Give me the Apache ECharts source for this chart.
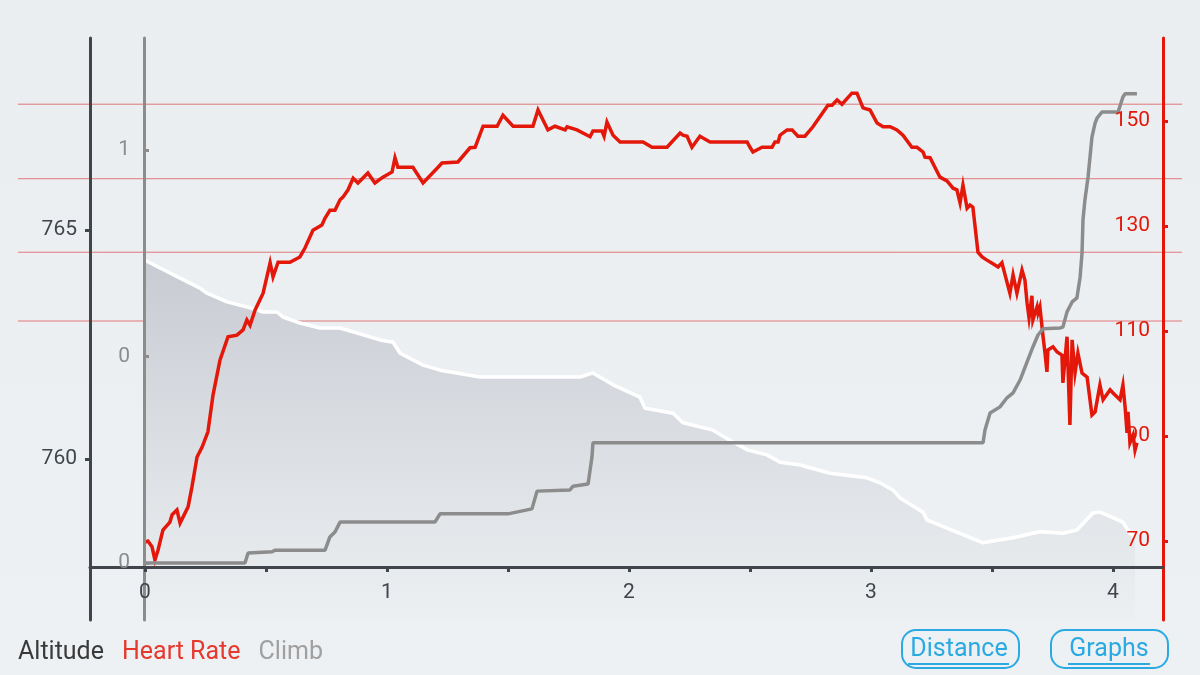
<!DOCTYPE html>
<html>
<head>
<meta charset="utf-8">
<script src="https://cdn.jsdelivr.net/npm/echarts@6/dist/echarts.min.js"></script>
<style>
html,body{margin:0;padding:0;background:#ebeff2;}
#chart{width:1200px;height:675px;}
</style>
</head>
<body>
<div id="chart"></div>
<script>
// ---------- data ----------
const altDist = [0,0.062,0.145,0.227,0.256,0.339,0.421,0.488,0.545,0.570,0.640,0.723,0.806,0.971,1.025,1.054,1.149,1.219,1.384,1.603,1.798,1.851,1.934,2.045,2.066,2.182,2.223,2.347,2.417,2.488,2.570,2.624,2.707,2.831,2.983,3.037,3.091,3.120,3.215,3.231,3.314,3.463,3.504,3.587,3.698,3.793,3.851,3.917,3.946,4.041,4.070,4.091];
const altVal  = [764.34,764.17,763.95,763.73,763.62,763.43,763.32,763.21,763.21,763.10,762.97,762.86,762.86,762.60,762.55,762.31,762.05,761.94,761.79,761.79,761.79,761.88,761.62,761.35,761.11,761.00,760.79,760.63,760.41,760.20,760.09,759.93,759.87,759.69,759.59,759.48,759.32,759.15,758.84,758.67,758.49,758.17,758.21,758.28,758.41,758.38,758.45,758.82,758.84,758.62,758.38,758.30];

const hrDist = [0,0.012,0.029,0.041,0.054,0.074,0.103,0.112,0.132,0.145,0.178,0.194,0.215,0.236,0.260,0.281,0.310,0.343,0.380,0.405,0.421,0.434,0.455,0.488,0.517,0.529,0.550,0.599,0.640,0.661,0.694,0.731,0.744,0.764,0.785,0.806,0.818,0.839,0.860,0.880,0.921,0.950,0.983,1.021,1.033,1.045,1.107,1.149,1.211,1.227,1.293,1.343,1.364,1.397,1.455,1.479,1.521,1.603,1.624,1.665,1.694,1.736,1.744,1.785,1.839,1.851,1.888,1.897,1.909,1.934,1.963,2.058,2.095,2.157,2.211,2.223,2.240,2.260,2.293,2.335,2.488,2.500,2.512,2.550,2.591,2.603,2.616,2.624,2.653,2.674,2.698,2.727,2.760,2.822,2.839,2.860,2.880,2.921,2.942,2.967,2.996,3.025,3.050,3.079,3.107,3.132,3.169,3.190,3.215,3.223,3.244,3.285,3.314,3.339,3.355,3.368,3.380,3.397,3.409,3.421,3.442,3.459,3.479,3.504,3.525,3.541,3.554,3.574,3.587,3.603,3.624,3.636,3.645,3.653,3.665,3.669,3.686,3.690,3.698,3.711,3.719,3.727,3.731,3.752,3.769,3.789,3.793,3.810,3.822,3.831,3.843,3.855,3.872,3.893,3.913,3.926,3.946,3.959,3.988,4.000,4.029,4.041,4.050,4.058,4.062,4.070,4.083,4.091,4.099];
const hrVal  = [69.8,70.0,68.9,66.4,68.3,72.1,73.6,75.0,75.9,73.4,76.5,80.3,86.0,87.9,90.8,97.8,104.5,108.9,109.2,110.2,112.1,111.1,114.0,117.2,123.0,120.3,123.1,123.1,124.1,125.8,129.2,130.2,131.5,133.0,133.0,135.0,135.5,136.9,139.1,138.2,140.1,138.2,139.3,140.3,143.0,141.2,141.2,138.2,141.2,142.0,142.2,144.9,145.0,149.0,149.0,151.1,149.0,149.0,152.1,148.3,149.0,148.3,148.9,148.3,147.0,148.1,148.1,147.1,149.8,147.3,146.0,146.0,145.0,145.0,147.7,147.3,147.1,145.0,147.1,146.0,146.0,145.0,144.1,145.0,145.0,146.0,146.0,147.3,148.3,148.3,147.1,147.1,148.9,153.0,153.0,154.0,153.2,155.3,155.3,152.5,152.1,149.6,148.9,148.9,148.3,147.3,145.0,145.0,144.1,143.1,143.0,139.3,138.6,137.2,136.9,134.4,137.8,133.4,134.0,133.6,125.0,124.1,123.5,122.8,122.2,123.0,120.7,117.2,120.7,117.2,121.6,119.7,115.3,112.5,116.7,112.1,114.6,113.4,114.6,108.9,105.8,102.2,106.4,107.0,106.0,105.4,100.1,108.9,92.1,108.3,102.0,105.8,102.0,101.2,94.0,94.6,99.7,96.9,98.8,98.2,96.9,99.7,95.5,90.6,94.6,88.7,90.2,87.3,88.7];

const climbDist = [0,0.413,0.426,0.525,0.537,0.744,0.764,0.785,0.806,1.198,1.219,1.500,1.599,1.620,1.756,1.769,1.831,1.847,1.851,3.463,3.471,3.492,3.533,3.562,3.587,3.616,3.645,3.669,3.690,3.711,3.781,3.793,3.810,3.831,3.851,3.864,3.872,3.876,3.884,3.897,3.913,3.926,3.934,3.955,4.021,4.041,4.050,4.099];
const climbVal  = [0,0,0.024,0.027,0.031,0.031,0.063,0.075,0.099,0.099,0.119,0.119,0.131,0.174,0.177,0.186,0.191,0.257,0.291,0.291,0.322,0.363,0.378,0.400,0.412,0.443,0.487,0.523,0.552,0.567,0.569,0.571,0.608,0.632,0.642,0.692,0.751,0.831,0.879,0.935,1.031,1.065,1.077,1.092,1.092,1.128,1.136,1.136];

const zoneValues = [111.9, 125.0, 139.0, 153.2];

const xTickValues = [0,0.5,1,1.5,2,2.5,3,3.5,4];
const xLabelValues = [0,1,2,3,4];
const altTickValues = [760, 765];
const hrTickValues = [70, 90, 110, 130, 150];
const climbTickValues = [0, 0.5, 1];
const climbTickLabels = ['0', '0', '1'];

const legendNames = ['Altitude', 'Heart Rate', 'Climb'];
const buttonLabels = ['Distance', 'Graphs'];

// ---------- chart ----------
const pairs = (xs, ys) => xs.map((x, i) => [x, ys[i]]);
const FONT = 'Roboto';
const C_DARK = '#40454c', C_RED = '#e3170a', C_GRAY = '#8c8c8c', C_BLUE = '#2aa9e2';

const chart = echarts.init(document.getElementById('chart'), null, {renderer: 'canvas'});

const zoneSeries = zoneValues.map(v => ({
  type: 'line', xAxisIndex: 1, yAxisIndex: 3, silent: true, symbol: 'none', z: 1,
  data: [[0, v], [1, v]],
  lineStyle: {color: 'rgba(222,80,80,0.75)', width: 1}
}));

chart.setOption({
  backgroundColor: new echarts.graphic.LinearGradient(0, 0, 0, 1, [
    {offset: 0, color: '#eaeef1'},
    {offset: 1, color: '#eef1f3'}
  ]),
  animation: false,
  textStyle: {fontFamily: FONT},
  grid: [
    {left: 90, right: 37, top: 38, bottom: 55},
    {left: 18, right: 18, top: 38, bottom: 55}
  ],
  legend: {
    left: 13, top: 638, padding: 0, icon: 'rect', itemWidth: 0, itemHeight: 0, itemGap: 13,
    selectedMode: false,
    textStyle: {fontSize: 25, fontFamily: FONT, lineHeight: 30},
    data: [
      {name: legendNames[0], textStyle: {color: '#3a3a3a'}},
      {name: legendNames[1], textStyle: {color: '#e5392e'}},
      {name: legendNames[2], textStyle: {color: '#a0a0a0'}}
    ]
  },
  xAxis: [
    {
      type: 'value', gridIndex: 0, min: -0.2273, max: 4.2066, offset: -53, z: 10,
      axisLine: {onZero: false, lineStyle: {color: C_DARK, width: 3}},
      axisTick: {show: true, length: 5, customValues: xTickValues, lineStyle: {color: C_DARK, width: 3}},
      axisLabel: {customValues: xLabelValues, color: C_DARK, fontSize: 21, margin: 15, fontFamily: FONT},
      splitLine: {show: false}
    },
    {type: 'value', gridIndex: 1, min: 0, max: 1, show: false}
  ],
  yAxis: [
    {
      type: 'value', gridIndex: 0, position: 'left', min: 756.485, max: 769.192, z: 10,
      axisLine: {show: true, onZero: false, lineStyle: {color: C_DARK, width: 3}},
      axisTick: {show: true, length: 5, customValues: altTickValues, lineStyle: {color: C_DARK, width: 3}},
      axisLabel: {customValues: altTickValues, color: C_DARK, fontSize: 21, margin: 13, fontFamily: FONT},
      splitLine: {show: false}
    },
    {
      type: 'value', gridIndex: 0, position: 'right', min: 54.95, max: 165.81, z: 10,
      axisLine: {show: true, onZero: false, lineStyle: {color: C_RED, width: 3}},
      axisTick: {show: true, length: 5, customValues: hrTickValues, lineStyle: {color: C_RED, width: 3}},
      axisLabel: {inside: true, customValues: hrTickValues, color: C_RED, fontSize: 21, margin: 13, fontFamily: FONT},
      splitLine: {show: false}
    },
    {
      type: 'value', gridIndex: 0, position: 'left', offset: -54, min: -0.138, max: 1.271, z: 10,
      axisLine: {show: true, onZero: false, lineStyle: {color: C_GRAY, width: 3}},
      axisTick: {show: true, inside: true, length: 5, customValues: climbTickValues, lineStyle: {color: C_GRAY, width: 3}},
      axisLabel: {
        customValues: climbTickValues, color: C_GRAY, fontSize: 21, margin: 14, fontFamily: FONT,
        formatter: v => climbTickLabels[climbTickValues.indexOf(Math.round(v * 2) / 2)] ?? ''
      },
      splitLine: {show: false}
    },
    {type: 'value', gridIndex: 1, min: 54.95, max: 165.81, show: false}
  ],
  series: [
    ...zoneSeries,
    {
      name: legendNames[0], type: 'line', xAxisIndex: 0, yAxisIndex: 0, symbol: 'none', z: 2,
      data: pairs(altDist, altVal),
      lineStyle: {color: '#ffffff', width: 3.5},
      itemStyle: {color: '#ffffff'},
      areaStyle: {
        opacity: 1,
        color: new echarts.graphic.LinearGradient(0, 0, 0, 1, [
          {offset: 0, color: '#c8cbd2'},
          {offset: 1, color: '#edf0f2'}
        ])
      }
    },
    {
      name: legendNames[1], type: 'line', xAxisIndex: 0, yAxisIndex: 1, symbol: 'none', z: 3,
      data: pairs(hrDist, hrVal),
      lineStyle: {color: C_RED, width: 3.5, join: 'miter'},
      itemStyle: {color: C_RED}
    },
    {
      name: legendNames[2], type: 'line', xAxisIndex: 0, yAxisIndex: 2, symbol: 'none', z: 4,
      data: pairs(climbDist, climbVal),
      lineStyle: {color: C_GRAY, width: 3.5},
      itemStyle: {color: C_GRAY}
    }
  ],
  graphic: [
    {type: 'rect', left: 901, top: 629, shape: {width: 117, height: 38, r: 14},
     style: {fill: 'rgba(0,0,0,0)', stroke: C_BLUE, lineWidth: 2}},
    {type: 'text', x: 959, y: 650, style: {text: buttonLabels[0], fill: C_BLUE, font: '25px Roboto', textAlign: 'center', textVerticalAlign: 'middle'}},
    {type: 'line', shape: {x1: 908, y1: 664, x2: 1009, y2: 664}, style: {stroke: C_BLUE, lineWidth: 2}},
    {type: 'rect', left: 1050, top: 629, shape: {width: 117, height: 38, r: 14},
     style: {fill: 'rgba(0,0,0,0)', stroke: C_BLUE, lineWidth: 2}},
    {type: 'text', x: 1109, y: 650, style: {text: buttonLabels[1], fill: C_BLUE, font: '25px Roboto', textAlign: 'center', textVerticalAlign: 'middle'}},
    {type: 'line', shape: {x1: 1068, y1: 664, x2: 1150, y2: 664}, style: {stroke: C_BLUE, lineWidth: 2}}
  ]
});
</script>
</body>
</html>
